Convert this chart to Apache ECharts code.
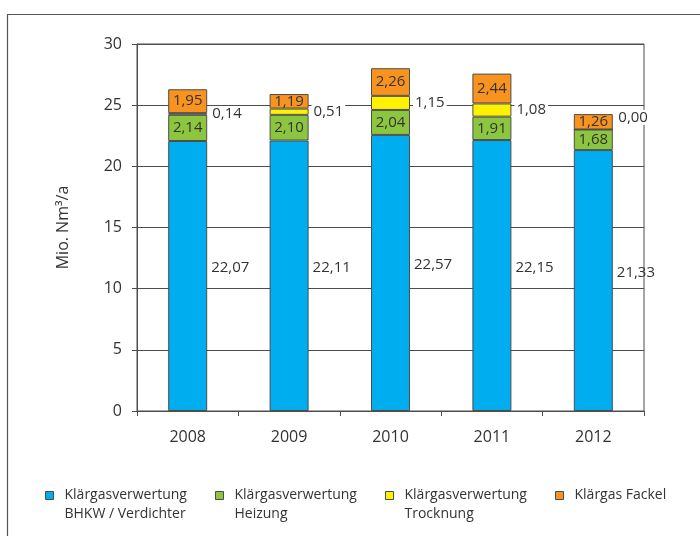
<!DOCTYPE html>
<html>
<head>
<meta charset="utf-8">
<script src="https://cdn.jsdelivr.net/npm/echarts@6/dist/echarts.min.js"></script>
<style>
  html, body { margin: 0; padding: 0; background: #fff; }
  #chart { width: 700px; height: 536px; }
</style>
</head>
<body>
<div id="chart"></div>
<script>
// Klärgasverwertung je Jahr, Mio. Nm³/a
const years = ['2008', '2009', '2010', '2011', '2012'];
const bhkw = [22.07, 22.11, 22.57, 22.15, 21.33];
const heizung = [2.14, 2.10, 2.04, 1.91, 1.68];
const trocknung = [0.14, 0.51, 1.15, 1.08, 0.00];
const fackel = [1.95, 1.19, 2.26, 2.44, 1.26];
const yTicks = [0, 5, 10, 15, 20, 25, 30];

const names = [
  'Klärgasverwertung\nBHKW / Verdichter',
  'Klärgasverwertung\nHeizung',
  'Klärgasverwertung\nTrocknung',
  'Klärgas Fackel'
];
const colors = ['#00adee', '#8cc63e', '#fff200', '#f7931e'];

const FONT = '"Open Sans", "Noto Sans", sans-serif';
const TXT = '#333333';
const fmt = v => v.toFixed(2).replace('.', ',');

// legend marker: small square sitting at the top of a taller box, so that it
// lines up with the first line of a two-line legend entry
const TALL_SQUARE = 'path://M0,0H8V8H0Z M0,27H0.001';

const chart = echarts.init(document.getElementById('chart'), null, { renderer: 'canvas' });

const barBase = {
  type: 'bar',
  stack: 'total',
  barWidth: 39,
  itemStyle: { borderColor: '#4d4d4d', borderWidth: 1 }
};

function legendFor(name, left, twoLines) {
  return {
    data: [name],
    left: left,
    top: 486,
    padding: 0,
    icon: twoLines ? TALL_SQUARE : 'rect',
    itemWidth: 8,
    itemHeight: twoLines ? 27 : 8,
    selectedMode: false,
    itemStyle: { borderColor: '#4d4d4d', borderWidth: 1 },
    textStyle: {
      fontFamily: FONT,
      fontSize: 14,
      color: TXT,
      lineHeight: 19,
      padding: [0, 0, 0, 6]
    }
  };
}

chart.setOption({
  animation: false,
  backgroundColor: '#ffffff',
  color: colors,
  graphic: [{
    type: 'polyline',
    shape: { points: [[7.5, 540], [7.5, 14.5], [705, 14.5]] },
    style: { stroke: '#555555', lineWidth: 1.2, fill: null },
    silent: true
  }],
  legend: [
    legendFor(names[0], 45, true),
    legendFor(names[1], 215, true),
    legendFor(names[2], 385, true),
    legendFor(names[3], 555, false)
  ],
  grid: {
    left: 137, right: 56, top: 44, bottom: 125,
    show: true, borderColor: '#4d4d4d', borderWidth: 1, backgroundColor: 'transparent'
  },
  xAxis: {
    type: 'category',
    data: years,
    axisLine: { lineStyle: { color: '#4d4d4d', width: 1 } },
    axisTick: { show: true, length: 5, lineStyle: { color: '#4d4d4d' } },
    axisLabel: { fontFamily: FONT, fontSize: 16, color: TXT, margin: 18 }
  },
  yAxis: {
    type: 'value',
    min: yTicks[0],
    max: yTicks[yTicks.length - 1],
    interval: yTicks[1] - yTicks[0],
    name: 'Mio. Nm³/a',
    nameLocation: 'middle',
    nameGap: 66,
    nameTextStyle: { fontFamily: FONT, fontSize: 16, color: TXT },
    axisLine: { show: true, lineStyle: { color: '#4d4d4d', width: 1 } },
    axisTick: { show: true, length: 5, lineStyle: { color: '#4d4d4d' } },
    axisLabel: { fontFamily: FONT, fontSize: 16, color: TXT, margin: 15 },
    splitLine: { show: true, lineStyle: { color: '#4d4d4d', width: 1 } }
  },
  series: [
    Object.assign({}, barBase, {
      name: names[0],
      data: bhkw,
      label: {
        show: true, position: 'right', distance: 4, offset: [0, -8],
        fontFamily: FONT, fontSize: 15, color: TXT,
        formatter: p => fmt(p.value)
      }
    }),
    Object.assign({}, barBase, {
      name: names[1],
      data: heizung,
      label: {
        show: true, position: 'inside',
        fontFamily: FONT, fontSize: 15, color: TXT,
        formatter: p => fmt(p.value)
      }
    }),
    Object.assign({}, barBase, {
      name: names[2],
      data: trocknung.map(v => v === 0
        ? { value: v, label: { offset: [0, -12] } }
        : { value: v }),
      label: {
        show: true, position: 'right', distance: 3,
        fontFamily: FONT, fontSize: 15, color: TXT,
        backgroundColor: '#ffffff', padding: [0, 2],
        formatter: p => fmt(p.value)
      }
    }),
    Object.assign({}, barBase, {
      name: names[3],
      data: fackel,
      label: {
        show: true, position: 'inside',
        fontFamily: FONT, fontSize: 15, color: TXT,
        formatter: p => fmt(p.value)
      }
    })
  ]
});
</script>
</body>
</html>
